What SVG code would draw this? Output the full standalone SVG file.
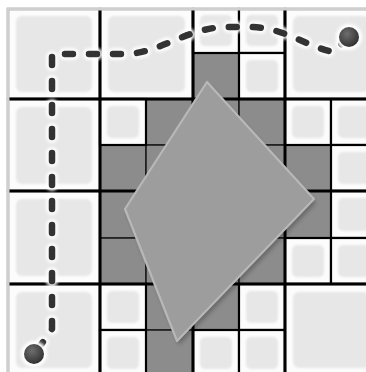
<svg xmlns="http://www.w3.org/2000/svg" width="366" height="372" viewBox="0 0 366 372">
<defs>
  <filter id="soft" x="-10%" y="-10%" width="120%" height="120%"><feGaussianBlur stdDeviation="1.2"/></filter>
  <filter id="halo" x="-20%" y="-20%" width="140%" height="140%"><feGaussianBlur stdDeviation="1.8"/></filter>
  <filter id="shadow" x="-20%" y="-20%" width="140%" height="140%"><feGaussianBlur stdDeviation="2"/></filter>
  <radialGradient id="ball" cx="0.4" cy="0.35" r="0.7">
    <stop offset="0" stop-color="#6e6e6e"/>
    <stop offset="1" stop-color="#2e2e2e"/>
  </radialGradient>
  <style>
    .free rect.bg{fill:#fcfcfc;stroke:#000;stroke-width:2.2}
    .free rect.in{fill:#e7e7e7;filter:url(#soft)}
    .dark rect{fill:#8c8c8c;stroke:#1e1e1e;stroke-width:1.6}
    .major{stroke:#000;stroke-width:3;fill:none}
    .dash{fill:none;stroke-linecap:round;stroke-linejoin:round;stroke-dasharray:8 16}
  </style>
</defs>
<rect width="366" height="372" fill="#ffffff"/>

<g id="obstacle-cells" class="dark">
  <rect x="193" y="53" width="46" height="46"/>
  <rect x="146" y="99" width="47" height="46"/>
  <rect x="100" y="145" width="46" height="46"/>
  <rect x="146" y="145" width="47" height="46"/>
  <rect x="193" y="99" width="46" height="46"/>
  <rect x="239" y="99" width="46" height="46"/>
  <rect x="193" y="145" width="46" height="46"/>
  <rect x="239" y="145" width="46" height="46"/>
  <rect x="285" y="145" width="46" height="46"/>
  <rect x="100" y="191" width="46" height="47"/>
  <rect x="146" y="191" width="47" height="47"/>
  <rect x="100" y="238" width="46" height="46"/>
  <rect x="146" y="238" width="47" height="46"/>
  <rect x="193" y="191" width="46" height="47"/>
  <rect x="239" y="191" width="46" height="47"/>
  <rect x="193" y="238" width="46" height="46"/>
  <rect x="239" y="238" width="46" height="46"/>
  <rect x="285" y="191" width="46" height="47"/>
  <rect x="146" y="284" width="47" height="46"/>
  <rect x="146" y="330" width="47" height="46"/>
  <rect x="193" y="284" width="46" height="46"/>
</g>

<g id="free-cells" class="free">
  <g id="c-r0c0"><rect class="bg" x="8" y="9" width="92" height="90"/><rect class="in" x="16" y="16" width="76" height="76" rx="6"/></g>
  <g id="c-r0c1"><rect class="bg" x="100" y="9" width="93" height="90"/><rect class="in" x="108" y="16" width="77" height="76" rx="6"/></g>
  <g id="c-r0c2a"><rect class="bg" x="193" y="9" width="46" height="44"/><rect class="in" x="200" y="15" width="32" height="31" rx="5"/></g>
  <g id="c-r0c2b"><rect class="bg" x="239" y="9" width="46" height="44"/><rect class="in" x="246" y="15" width="32" height="31" rx="5"/></g>
  <g id="c-r0c2d"><rect class="bg" x="239" y="53" width="46" height="46"/><rect class="in" x="246" y="60" width="32" height="32" rx="5"/></g>
  <g id="c-r0c3"><rect class="bg" x="285" y="9" width="92" height="90"/><rect class="in" x="293" y="16" width="76" height="76" rx="6"/></g>
  <g id="c-r1c0"><rect class="bg" x="8" y="99" width="92" height="92"/><rect class="in" x="16" y="107" width="76" height="77" rx="6"/></g>
  <g id="c-r1c1a"><rect class="bg" x="100" y="99" width="46" height="46"/><rect class="in" x="107" y="106" width="32" height="32" rx="5"/></g>
  <g id="c-r1c3a"><rect class="bg" x="285" y="99" width="46" height="46"/><rect class="in" x="292" y="106" width="32" height="32" rx="5"/></g>
  <g id="c-r1c3b"><rect class="bg" x="331" y="99" width="46" height="46"/><rect class="in" x="338" y="106" width="32" height="32" rx="5"/></g>
  <g id="c-r1c3d"><rect class="bg" x="331" y="145" width="46" height="46"/><rect class="in" x="338" y="152" width="32" height="32" rx="5"/></g>
  <g id="c-r2c0"><rect class="bg" x="8" y="191" width="92" height="93"/><rect class="in" x="16" y="199" width="76" height="77" rx="6"/></g>
  <g id="c-r2c3b"><rect class="bg" x="331" y="191" width="46" height="47"/><rect class="in" x="338" y="198" width="32" height="33" rx="5"/></g>
  <g id="c-r2c3c"><rect class="bg" x="285" y="238" width="46" height="46"/><rect class="in" x="292" y="245" width="32" height="32" rx="5"/></g>
  <g id="c-r2c3d"><rect class="bg" x="331" y="238" width="46" height="46"/><rect class="in" x="338" y="245" width="32" height="32" rx="5"/></g>
  <g id="c-r3c0"><rect class="bg" x="8" y="284" width="92" height="92"/><rect class="in" x="16" y="292" width="76" height="76" rx="6"/></g>
  <g id="c-r3c1a"><rect class="bg" x="100" y="284" width="46" height="46"/><rect class="in" x="107" y="291" width="32" height="32" rx="5"/></g>
  <g id="c-r3c1c"><rect class="bg" x="100" y="330" width="46" height="46"/><rect class="in" x="107" y="337" width="32" height="32" rx="5"/></g>
  <g id="c-r3c2b"><rect class="bg" x="239" y="284" width="46" height="46"/><rect class="in" x="246" y="291" width="32" height="32" rx="5"/></g>
  <g id="c-r3c2c"><rect class="bg" x="193" y="330" width="46" height="46"/><rect class="in" x="200" y="337" width="32" height="32" rx="5"/></g>
  <g id="c-r3c2d"><rect class="bg" x="239" y="330" width="46" height="46"/><rect class="in" x="246" y="337" width="32" height="32" rx="5"/></g>
  <g id="c-r3c3"><rect class="bg" x="285" y="284" width="92" height="92"/><rect class="in" x="293" y="292" width="76" height="76" rx="6"/></g>
</g>

<g id="grid-major">
  <path class="major" d="M100 9V376M193 9V376M285 9V376M8 99H377M8 191H377M8 284H377"/>
  <rect x="8" y="9" width="369" height="367" fill="none" stroke="#cfcfcf" stroke-width="3"/>
</g>

<g id="obstacle">
  <polygon points="209,86 316,203 179,345 127,213" fill="#000" opacity="0.25" filter="url(#shadow)"/>
  <polygon points="207,82 314,199 177,341 125,209" fill="#9d9d9d" stroke="#b8b8b8" stroke-width="2.2" stroke-linejoin="round"/>
</g>

<g id="connectors">
  <path class="dash" d="M36 352 L52 329 L52 54 L128 54 C160 52 185 30 222 27 L252 27 C285 28 305 46 333 52 L349 37" stroke="#ffffff" stroke-width="12" opacity="0.9" filter="url(#halo)" stroke-dashoffset="-4"/>
  <path class="dash" d="M36 352 L52 329 L52 54 L128 54 C160 52 185 30 222 27 L252 27 C285 28 305 46 333 52 L349 37" stroke="#333333" stroke-width="6.5" stroke-dashoffset="-4"/>
</g>

<g id="start">
  <circle cx="34" cy="354" r="13" fill="#ffffff" filter="url(#halo)"/>
  <circle cx="34" cy="354" r="10" fill="url(#ball)"/>
</g>
<g id="goal">
  <circle cx="349" cy="37" r="13" fill="#ffffff" filter="url(#halo)"/>
  <circle cx="349" cy="37" r="10" fill="url(#ball)"/>
</g>
</svg>
